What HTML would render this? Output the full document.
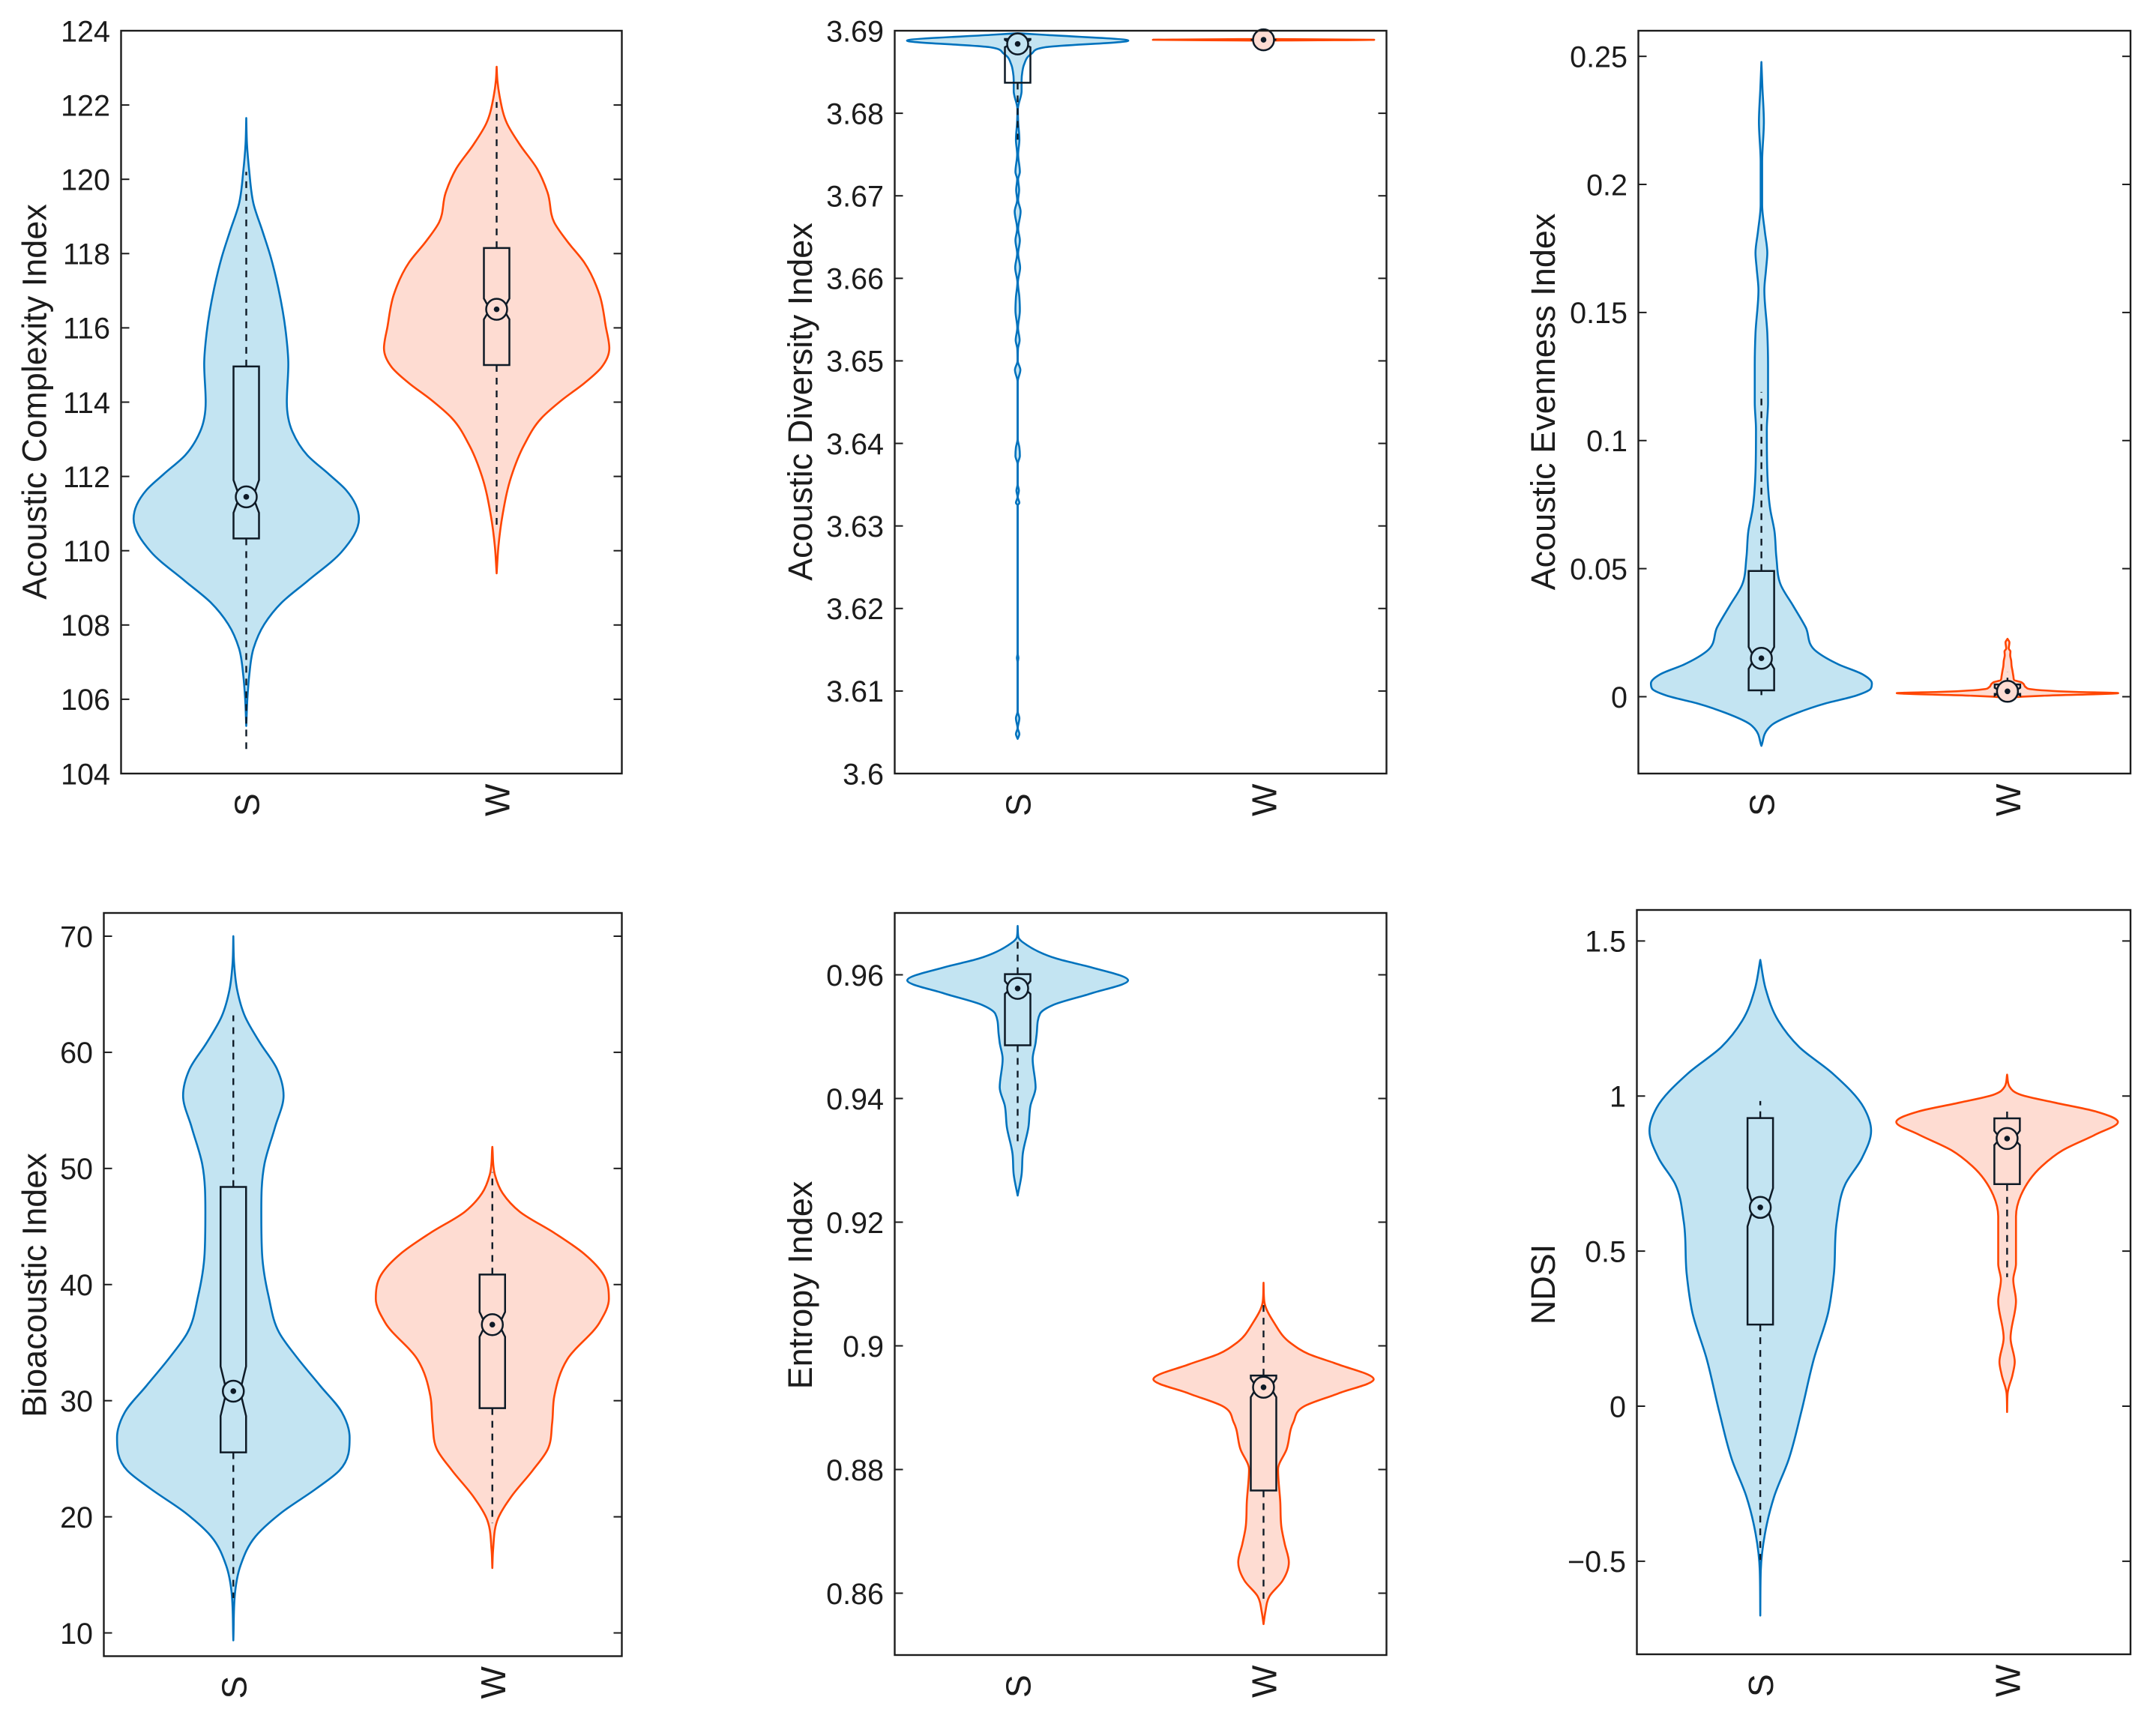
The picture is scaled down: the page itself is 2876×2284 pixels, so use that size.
<!DOCTYPE html>
<html lang="en">
<head>
<meta charset="utf-8">
<title>Violin plots of acoustic indices</title>
<style>
html,body{margin:0;padding:0;background:#fff;}
svg{display:block;font-family:"Liberation Sans",Arial,sans-serif;}
</style>
</head>
<body>
<svg id="figure" xmlns="http://www.w3.org/2000/svg" width="2876" height="2284" viewBox="0 0 2876 2284"></svg>
<script>
// Shared category labels
const categories = ['S', 'W'];

// Acoustic Complexity Index
const aciTicks = [104,106,108,110,112,114,116,118,120,122,124];
const aciTickLabels = ['104','106','108','110','112','114','116','118','120','122','124'];
const aciLimits = [104,124];
const aciSValues = [105.28,106.08,106.65,107.37,108.02,108.6,109.18,109.97,110.86,111.63,112.06,112.57,113.21,114.01,115.02,115.88,117.04,117.9,118.62,119.34,120.21,120.93,121.65];
const aciSDensity = [0,.5,1.2,2.9,7.2,14.1,24.4,38.1,45,39.9,33,24.4,18.4,16.2,16.8,15.8,12.9,9.8,6.4,2.9,1.2,.3,0];
const aciSBox = [104.66,110.33,111.02,111.45,111.9,114.96,120.2];
const aciWValues = [109.39,110.11,110.98,111.99,112.85,113.57,114.08,114.51,114.94,115.45,116.03,116.89,117.76,118.33,118.84,119.63,120.28,120.93,121.51,122.23,122.66,123.03];
const aciWDensity = [0,.7,2.4,5.8,11,17.9,26.5,35,41.9,45,43.6,41.1,35,28.2,23,20.4,16.2,9.3,4.1,1.2,.3,0];
const aciWBox = [110.62,115.0,116.23,116.5,116.79,118.15,122.08];

// Acoustic Diversity Index
const adiTicks = [3.6,3.61,3.62,3.63,3.64,3.65,3.66,3.67,3.68,3.69];
const adiTickLabels = ['3.6','3.61','3.62','3.63','3.64','3.65','3.66','3.67','3.68','3.69'];
const adiLimits = [3.6,3.69];
const adiSValues = [3.6042,3.6048,3.6055,3.6067,3.6075,3.6135,3.614,3.6145,3.6325,3.6328,3.6335,3.6343,3.635,3.6375,3.6385,3.6395,3.6405,3.6475,3.6489,3.65,3.6515,3.6525,3.654,3.6561,3.6577,3.6595,3.6613,3.663,3.6646,3.666,3.6681,3.6695,3.6707,3.672,3.6729,3.675,3.6768,3.679,3.6805,3.6827,3.684,3.685,3.6859,3.6872,3.688,3.6888,3.6895,3.6897];
const adiSDensity = [0,.7,.05,.7,.05,.05,.3,.05,.05,.7,.05,.5,.05,.05,.9,.7,.05,.05,1.1,.05,.15,.8,.15,.9,.7,.1,1,.2,.9,.2,1.2,.2,.6,.2,.9,.2,.7,.2,.1,1.6,1.6,1.9,2.6,5.6,11.2,45,11,0];
const adiSBox = [3.6768,3.6837,3.688,3.6884,3.6889,3.689,3.689];
const adiWValues = [3.688,3.6884,3.6888,3.6889,3.689];
const adiWDensity = [0,.2,.3,45,0];
const adiWBox = [3.6889,3.6889,3.6889,3.6889,3.6889,3.6889,3.6889];

// Acoustic Evenness Index
const aeiTicks = [0,0.05,0.1,0.15,0.2,0.25];
const aeiTickLabels = ['0','0.05','0.1','0.15','0.2','0.25'];
const aeiLimits = [-0.03,0.26];
const aeiSValues = [-.0192,-.0125,-.0109,-.0063,-.0025,.0004,.0031,.0052,.0088,.0125,.0177,.0271,.0355,.0438,.0543,.0647,.0731,.0877,.1044,.1148,.1294,.142,.1587,.167,.1733,.1816,.1921,.2088,.2244,.238,.2478];
const aeiSDensity = [0,2.7,4.4,14.6,26.5,38.4,44.4,44.9,41,31.6,22.3,18,12.9,7.8,6.1,5.3,3.6,2.4,2.2,2.7,2.7,2.4,1.2,1.9,2.4,1.4,.3,.3,1,.4,0];
const aeiSBox = [.0006,.0025,.0109,.015,.0194,.0491,.119];
const aeiWValues = [-.0005,0,.0004,.0014,.0019,.003,.0036,.0051,.0057,.0065,.008,.0103,.0118,.0141,.0162,.0177,.0188,.0212,.0226];
const aeiWDensity = [0,6,15,45,27,9,7.6,6.4,5.5,2.7,2.4,2,1.7,1.5,1.1,1.2,.5,.8,0];
const aeiWBox = [.0008,.0011,.0005,.0021,.0035,.0048,.0098];

// Bioacoustic Index
const biTicks = [10,20,30,40,50,60,70];
const biTickLabels = ['10','20','30','40','50','60','70'];
const biLimits = [8,72];
const biSValues = [9.36,13.55,15.82,18.32,20.36,22.41,24,26.82,29,31.27,33.77,35.82,39,42.64,46.27,50.36,53.55,56.27,58.55,60.82,63.09,65.36,67.64,70];
const biSDensity = [0,.7,2.8,8.6,18.6,31.9,41,44.9,41.9,33.6,24.4,17.8,13.6,11.1,10.8,12,16.1,19.4,16.9,10.3,4.5,1.5,.3,0];
const biSBox = [13,25.55,28.68,30.82,32.95,48.41,63.18];
const biWValues = [15.59,17.18,19.91,21.73,24,25.82,28.09,30.36,33.55,36.73,38.77,40.82,42.64,44.45,46.27,47.86,49.45,51.86];
const biWDensity = [0,.3,2.3,7.3,15.6,21.4,23.1,23.9,28.9,41.4,45,43,35.5,23.9,10.6,4,1,0];
const biWBox = [19.45,29.36,35.5,36.55,37.64,40.86,49.68];

// Entropy Index
const entTicks = [0.86,0.88,0.9,0.92,0.94,0.96];
const entTickLabels = ['0.86','0.88','0.9','0.92','0.94','0.96'];
const entLimits = [0.85,0.97];
const entSValues = [.9243,.9277,.9311,.9354,.9388,.9418,.9464,.949,.9503,.9537,.9551,.957,.9591,.9612,.9626,.9648,.9661,.9679];
const entSDensity = [0,1.6,2.1,4.4,5.2,7.3,6.1,7.3,7.7,9.1,14.3,30,44.9,30,16,3.8,.3,0];
const entSBox = [.9324,.9486,.9569,.9578,.959,.9601,.9656];
const entWValues = [.855,.8569,.8595,.862,.865,.868,.8706,.8748,.88,.8833,.8876,.8902,.8923,.8946,.897,.8987,.9004,.9038,.9072,.9102];
const entWDensity = [0,.7,2.4,7.7,10.3,8.6,7.3,6.8,5.9,9.4,12.1,16.4,30.4,44.8,30.4,18.2,11.2,4.2,.3,0];
const entWBox = [.8591,.8766,.8917,.8933,.8947,.8952,.9072];

// NDSI
const ndsiTicks = [-0.5,0,0.5,1,1.5];
const ndsiTickLabels = ['\u22120.5','0','0.5','1','1.5'];
const ndsiLimits = [-0.8,1.6];
const ndsiSValues = [-.675,-.53,-.411,-.292,-.172,-.019,.152,.305,.425,.595,.715,.8,.888,.962,1.073,1.158,1.243,1.345,1.439];
const ndsiSDensity = [0,.2,1.9,5.6,11.5,16.6,21.7,27.6,29.8,31,34.4,41.2,44.9,42,29.3,15.8,7.3,2.2,0];
const ndsiSBox = [-.496,.263,.58,.641,.703,.929,.984];
const ndsiWValues = [-.019,.041,.101,.143,.22,.339,.408,.459,.612,.68,.774,.825,.877,.916,.95,.979,1.004,1.03,1.069];
const ndsiWDensity = [0,.2,2.2,3.1,1.4,3.6,2.5,3.6,3.6,5.6,14.1,22.5,36.1,44.9,36.1,19.2,5.6,1,0];
const ndsiWBox = [.416,.716,.842,.863,.888,.928,.967];

const NS = 'http://www.w3.org/2000/svg';
const figure = document.getElementById('figure');
const INK = '#1c1c1c';
const BOX_INK = '#0e1a26';

function mk(parent, tag, attrs) {
  const el = document.createElementNS(NS, tag);
  for (const k in attrs) el.setAttribute(k, attrs[k]);
  parent.appendChild(el);
  return el;
}

// Smooth cubic through (value, density) samples: three-point slopes with a monotonic limiter
function tangents(xs, ys) {
  const n = xs.length, d = [], m = new Array(n).fill(0);
  for (let i = 0; i < n - 1; i++) d.push((ys[i + 1] - ys[i]) / (xs[i + 1] - xs[i]));
  m[0] = d[0]; m[n - 1] = d[n - 2];
  for (let i = 1; i < n - 1; i++) {
    if (d[i - 1] * d[i] <= 0) { m[i] = 0; continue; }
    const h0 = xs[i] - xs[i - 1], h1 = xs[i + 1] - xs[i];
    const s = (d[i - 1] * h1 + d[i] * h0) / (h0 + h1);
    const lim = 3 * Math.min(Math.abs(d[i - 1]), Math.abs(d[i]));
    m[i] = Math.sign(s) * Math.min(Math.abs(s), lim);
  }
  return m;
}

function violinPath(values, density, xPos, yScale, center) {
  const m = tangents(values, density);
  const n = values.length;
  const right = function (w) { return xPos(center + w / 100); };
  const left = function (w) { return xPos(center - w / 100); };
  let s = 'M' + left(density[0]).toFixed(2) + ' ' + yScale(values[0]).toFixed(2);
  for (let i = 0; i < n - 1; i++) {
    const h = values[i + 1] - values[i];
    s += 'C' + right(density[i] + m[i] * h / 3).toFixed(2) + ' ' + yScale(values[i] + h / 3).toFixed(2) + ' ' +
      right(density[i + 1] - m[i + 1] * h / 3).toFixed(2) + ' ' + yScale(values[i + 1] - h / 3).toFixed(2) + ' ' +
      right(density[i + 1]).toFixed(2) + ' ' + yScale(values[i + 1]).toFixed(2);
  }
  for (let i = n - 1; i > 0; i--) {
    const h = values[i] - values[i - 1];
    s += 'C' + left(density[i] - m[i] * h / 3).toFixed(2) + ' ' + yScale(values[i] - h / 3).toFixed(2) + ' ' +
      left(density[i - 1] + m[i - 1] * h / 3).toFixed(2) + ' ' + yScale(values[i - 1] + h / 3).toFixed(2) + ' ' +
      left(density[i - 1]).toFixed(2) + ' ' + yScale(values[i - 1]).toFixed(2);
  }
  return s + 'Z';
}

function drawViolin(g, values, density, box, center, xPos, yScale, fill, line, seriesName) {
  const v = mk(g, 'path', { d: violinPath(values, density, xPos, yScale, center), fill: fill, stroke: line, 'stroke-width': 2.6, 'stroke-linejoin': 'round' });
  
  

  const cx = xPos(center), hw = 17, nw = 9;
  const wLo = yScale(box[0]), q1 = yScale(box[1]), nLo = yScale(box[2]), med = yScale(box[3]), nHi = yScale(box[4]), q3 = yScale(box[5]), wHi = yScale(box[6]);

  const wl = mk(g, 'path', { d: 'M' + cx + ' ' + q1 + 'L' + cx + ' ' + wLo + 'M' + cx + ' ' + q3 + 'L' + cx + ' ' + wHi, fill: 'none', stroke: BOX_INK, 'stroke-width': 2.4, 'stroke-dasharray': '9 8' });
  
  

  const bx = mk(g, 'path', {
    d: 'M' + (cx - hw) + ' ' + q1 + 'L' + (cx + hw) + ' ' + q1 + 'L' + (cx + hw) + ' ' + nLo + 'L' + (cx + nw) + ' ' + med + 'L' + (cx + hw) + ' ' + nHi +
       'L' + (cx + hw) + ' ' + q3 + 'L' + (cx - hw) + ' ' + q3 + 'L' + (cx - hw) + ' ' + nHi + 'L' + (cx - nw) + ' ' + med + 'L' + (cx - hw) + ' ' + nLo + 'Z',
    fill: 'none', stroke: BOX_INK, 'stroke-width': 2.5, 'stroke-linejoin': 'miter'
  });
  
  

  const circle = mk(g, 'circle', { cx: cx, cy: med, r: 14, fill: fill, stroke: BOX_INK, 'stroke-width': 2.5 });
  
  

  const dot = mk(g, 'circle', { cx: cx, cy: med, r: 3.8, fill: BOX_INK });
  
  
}

function drawPanel(name, title, layout, limits, ticks, tickLabels, sValues, sDensity, sBox, wValues, wDensity, wBox) {
  const g = mk(figure, 'g', {});
  
  

  const xPos = function (v) { return layout.left + (v - 0.5) / 2 * (layout.right - layout.left); };
  const yScale = function (v) { return layout.bottom - (v - limits[0]) / (limits[1] - limits[0]) * (layout.bottom - layout.top); };

  drawViolin(g, sValues, sDensity, sBox, 1, xPos, yScale, '#c3e4f2', '#0072bd', name + '-s');
  drawViolin(g, wValues, wDensity, wBox, 2, xPos, yScale, '#fedcd2', '#ff4500', name + '-w');

  const frame = mk(g, 'rect', { x: layout.left, y: layout.top, width: layout.right - layout.left, height: layout.bottom - layout.top, fill: 'none', stroke: INK, 'stroke-width': 2.4 });
  
  

  ticks.forEach(function (t, i) {
    const y = yScale(t);
    const left = mk(g, 'line', { x1: layout.left, x2: layout.left + 11, y1: y, y2: y, stroke: INK, 'stroke-width': 2 });
    
    
    const right = mk(g, 'line', { x1: layout.right - 11, x2: layout.right, y1: y, y2: y, stroke: INK, 'stroke-width': 2 });
    
    
    const lab = mk(g, 'text', { x: layout.left - 14.5, y: y + 14.3, 'text-anchor': 'end', 'font-size': 39.5, fill: INK });
    lab.textContent = tickLabels[i];
    
    
  });

  categories.forEach(function (c, i) {
    const lab = mk(g, 'text', { transform: 'translate(' + (xPos(i + 1) + 17) + ',' + (layout.bottom + 57) + ') rotate(-90)', 'text-anchor': 'start', 'font-size': 46, fill: INK });
    lab.textContent = c;
    
    
  });

  const yTitle = mk(g, 'text', { transform: 'translate(' + layout.titleX + ',' + layout.titleY + ') rotate(-90)', 'text-anchor': 'middle', 'font-size': 45, fill: INK });
  yTitle.textContent = title;
  
  
}

drawPanel('acoustic-complexity', 'Acoustic Complexity Index', { left: 161.5, right: 829.5, top: 41, bottom: 1032, titleX: 61.5, titleY: 536 }, aciLimits, aciTicks, aciTickLabels, aciSValues, aciSDensity, aciSBox, aciWValues, aciWDensity, aciWBox);
drawPanel('acoustic-diversity', 'Acoustic Diversity Index', { left: 1193.5, right: 1849.5, top: 41, bottom: 1032, titleX: 1083, titleY: 536 }, adiLimits, adiTicks, adiTickLabels, adiSValues, adiSDensity, adiSBox, adiWValues, adiWDensity, adiWBox);
drawPanel('acoustic-evenness', 'Acoustic Evenness Index', { left: 2185.5, right: 2842, top: 41, bottom: 1032, titleX: 2074, titleY: 536 }, aeiLimits, aeiTicks, aeiTickLabels, aeiSValues, aeiSDensity, aeiSBox, aeiWValues, aeiWDensity, aeiWBox);
drawPanel('bioacoustic', 'Bioacoustic Index', { left: 138.5, right: 829.5, top: 1218, bottom: 2209.5, titleX: 61.5, titleY: 1714.5 }, biLimits, biTicks, biTickLabels, biSValues, biSDensity, biSBox, biWValues, biWDensity, biWBox);
drawPanel('entropy', 'Entropy Index', { left: 1193.5, right: 1849.5, top: 1218, bottom: 2208, titleX: 1083, titleY: 1714.5 }, entLimits, entTicks, entTickLabels, entSValues, entSDensity, entSBox, entWValues, entWDensity, entWBox);
drawPanel('ndsi', 'NDSI', { left: 2183.5, right: 2842, top: 1214, bottom: 2207, titleX: 2074, titleY: 1713.5 }, ndsiLimits, ndsiTicks, ndsiTickLabels, ndsiSValues, ndsiSDensity, ndsiSBox, ndsiWValues, ndsiWDensity, ndsiWBox);
</script>
</body>
</html>
